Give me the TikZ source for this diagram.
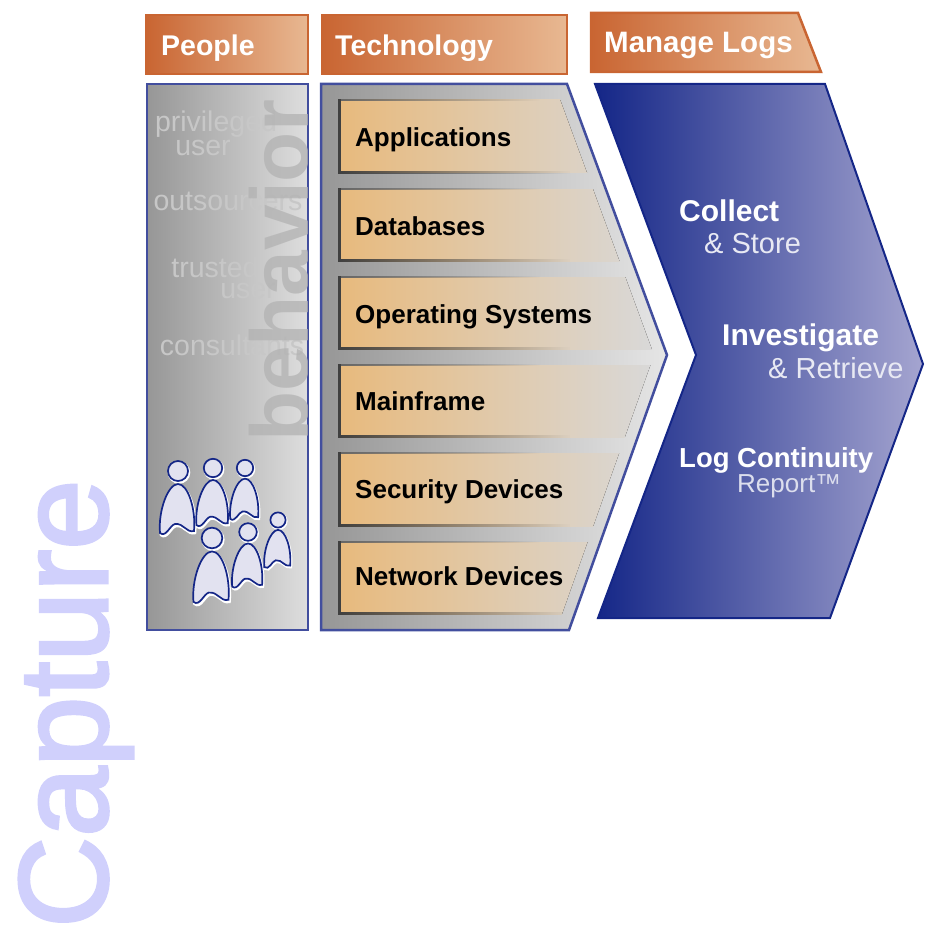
\documentclass[tikz,border=0pt]{standalone}
\usepackage{fontspec}
\setmainfont{Liberation Sans}
\newfontfamily\capfont[FakeBold=2.5]{Liberation Sans}
\usetikzlibrary{positioning,fadings}

\definecolor{headorange}{RGB}{201,101,50}
\definecolor{headlight}{RGB}{232,184,146}
\definecolor{edgeblue}{RGB}{66,78,158}
\definecolor{navy}{RGB}{20,38,135}
\definecolor{chevlight}{RGB}{165,165,208}
\definecolor{capturecol}{RGB}{208,208,252}
\definecolor{boxorange}{RGB}{232,186,125}
\definecolor{boxmid}{RGB}{220,204,178}
\definecolor{figfill}{RGB}{226,226,240}

\newcommand{\personbody}{(-18,62) .. controls (-20,40) and (-10,13) .. (0,13)
      .. controls (10,13) and (18,38) .. (16,60) .. controls (8,62) and (6,52) .. (-3,53)
      .. controls (-8,54) and (-12,67) .. (-18,62) -- cycle}

\tikzset{
  headbox/.style={draw=headorange, line width=2.5pt, left color=headorange, middle color=headorange!88!headlight, right color=headlight},
  panelbox/.style={draw=edgeblue, line width=2.5pt, left color=black!41, middle color=black!34, right color=black!13},
  headtext/.style={anchor=base west, text=white, inner sep=0, font=\bfseries\fontsize{28.5}{28.5}\selectfont},
  techtext/.style={anchor=base west, text=black, inner sep=0, font=\bfseries\fontsize{26}{26}\selectfont},
  roletext/.style={anchor=base, text=black!22, inner sep=0, font=\fontsize{28.5}{28.5}\selectfont},
  stephead/.style={anchor=base west, text=white, inner sep=0, font=\bfseries\fontsize{30}{30}\selectfont},
  stepsub/.style={anchor=base west, text=white!90!navy, inner sep=0, font=\fontsize{29}{29}\selectfont},
  person/.pic={
    \draw[white, line width=2.5pt, fill=white] (1,1.5) circle (10);
    \draw[white, line width=2.5pt, fill=white, shift={(1,2)}] \personbody;
    \draw[navy, line width=1.7pt, fill=figfill] (0,0) circle (10);
    \draw[navy, line width=1.7pt, fill=figfill] \personbody;
  }
}

\begin{document}
\begin{tikzpicture}[x=1pt,y=-1pt]
\useasboundingbox (0,0) rectangle (924,928);

% Side title
\node[rotate=90, anchor=base west, text=capturecol, inner sep=0, font=\capfont\fontsize{126}{126}\selectfont] (capture) at (107,928) {Capture};

% Column heads
\draw[headbox] (146,15) rectangle (308,74);
\draw[headbox] (322,15) rectangle (567,74);
\draw[headbox] (591,13) -- (798,13) -- (821,72) -- (591,72) -- cycle;
\node[headtext] (people) at (161,56) {People};
\node[headtext] (technology) at (335,56) {Technology};
\node[headtext, font=\bfseries\fontsize{29.5}{29.5}\selectfont] (managelogs) at (604,53) {Manage Logs};

% People panel
\draw[panelbox] (147,84) rectangle (308,630);
\begin{scope}
\clip (148,85) rectangle (307,629);
\node[roletext] (privileged) at (216,132) {privileged};
\node[roletext] (user) at (203,156) {user};
\node[roletext] (outsourcers) at (228,210) {outsourcers};
\node[roletext] (trusted) at (215,277) {trusted};
\node[roletext] (usertwo) at (248,298) {user};
\node[roletext] (consultants) at (232,355) {consultants};
\node[rotate=90, anchor=base west, text=black!30, text opacity=.75, inner sep=0, font=\bfseries\fontsize{82}{82}\selectfont] (behavior) at (308,442) {behavior};
\end{scope}

% People
\foreach \px/\py/\ps in {178/471/1, 213/468/.92, 245/468/.82, 212/538/1.03, 248/532/.88, 278/520/.76}
  \pic[scale=\ps] at (\px,\py) {person};

% Technology panel
\draw[panelbox, middle color=black!31, right color=black!10] (321,84) -- (567,84) -- (667,355) -- (569,630) -- (321,630) -- cycle;
\begin{scope}
\clip (330,83) -- (554,83) -- (654,355) -- (556,631) -- (330,631) -- cycle;
\foreach \ytop/\ybot in {100/173, 189/261, 277/349, 365/437, 453/526, 542/614} {
  \fill[left color=boxorange, middle color=boxmid, right color=black!15] (339,\ytop) rectangle (654,\ybot);
  \fill[black!75, path fading=east] (339,\ybot-2) rectangle (570,\ybot+1);
  \fill[black!60, path fading=east] (339,\ytop-1) rectangle (540,\ytop+1);
  \fill[black!75] (338,\ytop-1) rectangle (341,\ybot+1);
}
\end{scope}
\node[techtext] (applications) at (355,147) {Applications};
\node[techtext] (databases) at (355,235) {Databases};
\node[techtext] (opsystems) at (355,323) {Operating Systems};
\node[techtext] (mainframe) at (355,410) {Mainframe};
\node[techtext] (security) at (355,498) {Security Devices};
\node[techtext] (network) at (355,585) {Network Devices};

% Manage logs chevron
\draw[navy, line width=2pt, left color=navy, right color=chevlight] (595,84) -- (825,84) -- (923,364) -- (830,618) -- (598,618) -- (696,355) -- cycle;
\node[stephead] (collect) at (679,221) {Collect};
\node[stepsub] (store) at (704,253) {\& Store};
\node[stephead] (investigate) at (722,345) {Investigate};
\node[stepsub] (retrieve) at (768,378) {\& Retrieve};
\node[stephead, font=\bfseries\fontsize{27.5}{27.5}\selectfont] (continuity) at (679,467) {Log Continuity};
\node[stepsub, font=\fontsize{26}{26}\selectfont, text=white!85!navy] (report) at (737,492) {Report™};
\end{tikzpicture}
\end{document}
